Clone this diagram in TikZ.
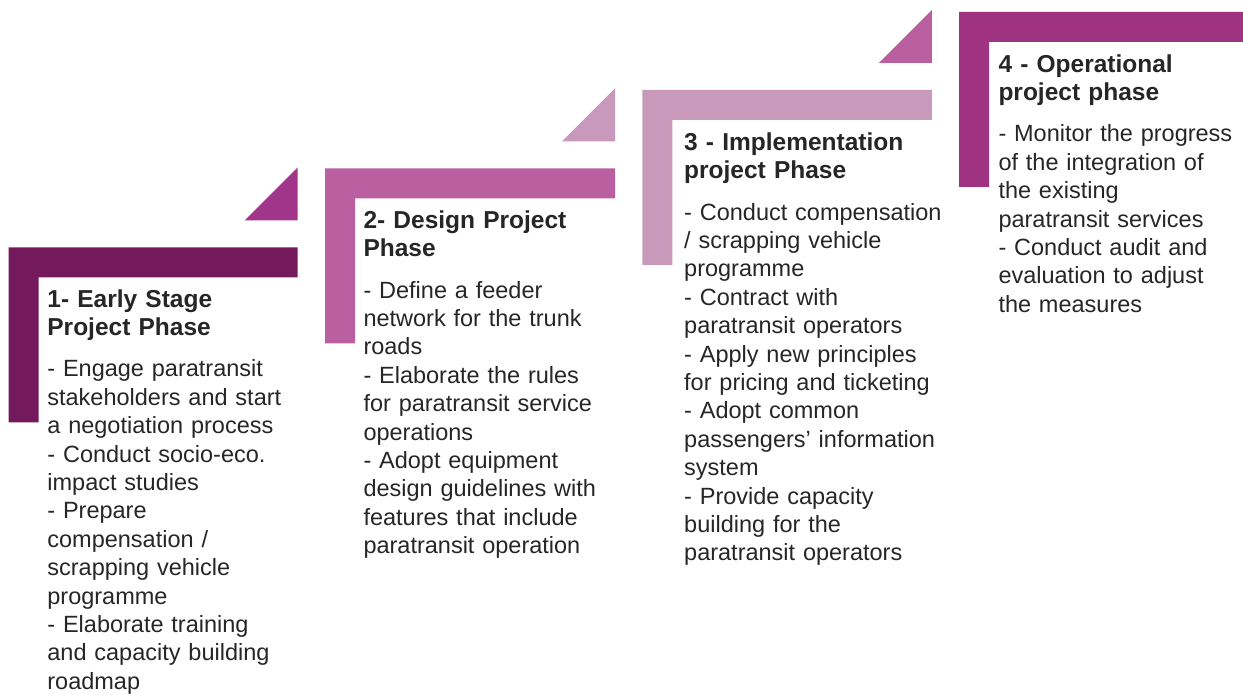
\documentclass[tikz,border=0pt]{standalone}
\usepackage{fontspec}
\setmainfont{Liberation Sans}
\definecolor{plum}{HTML}{741A5C}
\definecolor{magentaA}{HTML}{A0358A}
\definecolor{orchid}{HTML}{BA5FA0}
\definecolor{lilac}{HTML}{C899BA}
\definecolor{violetB}{HTML}{9F3381}
\definecolor{txt}{HTML}{262626}
\tikzset{
  ttl/.style={anchor=north west, inner sep=0pt, text width=300pt, align=left,
    font=\fontsize{24.5}{28.2}\selectfont\bfseries, text=txt},
  bdy/.style={anchor=north west, inner sep=0pt, text width=300pt, align=left,
    font=\fontsize{23.5}{28.4}\selectfont, text=txt},
}
\newcommand\phaseshape[4]{% x, y, width, colour
  \fill[#4] (#1,#2) -- ++(#3,0) -- ++(0,30) -- ++({-(#3)+30},0) -- ++(0,145) -- ++(-30,0) -- cycle;}
\newcommand\phasetri[3]{% right x, bar top y, colour
  \fill[#3] ({#1-53},{#2-27}) -- (#1,{#2-27}) -- (#1,{#2-80}) -- cycle;}
\begin{document}
\begin{tikzpicture}[x=1pt,y=-1pt]
\useasboundingbox (0,0) rectangle (1243,695);
% shapes
\phaseshape{8.7}{247.3}{289}{plum}
\phasetri{297.7}{247.3}{magentaA}
\phaseshape{325}{168.3}{290}{orchid}
\phasetri{615}{168.3}{lilac}
\phaseshape{642.3}{90}{289.5}{lilac}
\phasetri{931.8}{90}{orchid}
\phaseshape{959}{12}{290}{violetB}
% texts
\node[ttl] (t1) at (47.2,287.3) {\rule{0pt}{20pt}1- Early Stage\\Project Phase};
\node[bdy] (b1) at (47.2,356.7) {\rule{0pt}{20pt}- Engage paratransit\\stakeholders and start\\a negotiation process\\- Conduct socio-eco.\\impact studies\\- Prepare\\compensation /\\scrapping vehicle\\programme\\- Elaborate training\\and capacity building\\roadmap};
\node[ttl] (t2) at (363.3,208.5) {\rule{0pt}{20pt}2- Design Project\\Phase};
\node[bdy] (b2) at (363.3,277.9) {\rule{0pt}{20pt}- Define a feeder\\network for the trunk\\roads\\- Elaborate the rules\\for paratransit service\\operations\\- Adopt equipment\\design guidelines with\\features that include\\paratransit operation};
\node[ttl] (t3) at (684,130.5) {\rule{0pt}{20pt}3 - Implementation\\project Phase};
\node[bdy] (b3) at (684,199.9) {\rule{0pt}{20pt}- Conduct compensation\\/ scrapping vehicle\\programme\\- Contract with\\paratransit operators\\- Apply new principles\\for pricing and ticketing\\- Adopt common\\passengers' information\\system\\- Provide capacity\\building for the\\paratransit operators};
\node[ttl] (t4) at (998.3,52.3) {\rule{0pt}{20pt}4 - Operational\\project phase};
\node[bdy] (b4) at (998.3,121.7) {\rule{0pt}{20pt}- Monitor the progress\\of the integration of\\the existing\\paratransit services\\- Conduct audit and\\evaluation to adjust\\the measures};
\end{tikzpicture}
\end{document}
